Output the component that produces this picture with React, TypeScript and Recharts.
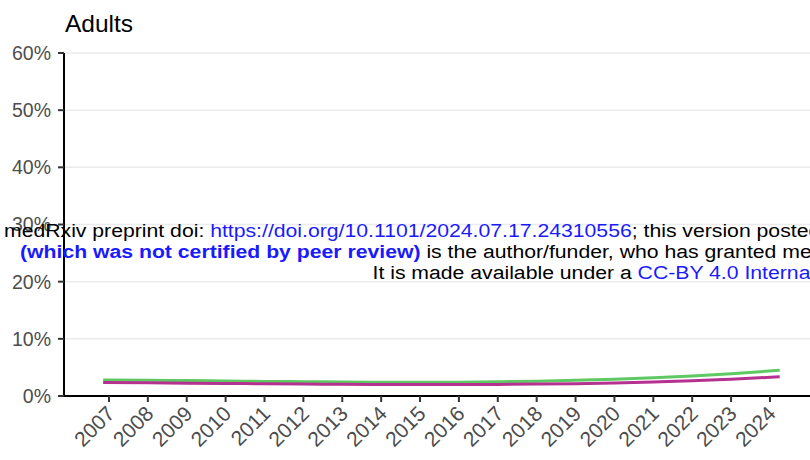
import React from "react";
import { LineChart, Line, XAxis, YAxis, CartesianGrid } from "recharts";

// sample points along the smoothed curves (first/last points sit just past the end ticks)
const sampleYears = [2006.85, 2008, 2009, 2010, 2011, 2012, 2013, 2014, 2015, 2016, 2017, 2018, 2019, 2020, 2021, 2022, 2023, 2024.25];
const greenSeries = [2.8, 2.75, 2.7, 2.62, 2.55, 2.5, 2.45, 2.42, 2.4, 2.42, 2.5, 2.6, 2.75, 2.95, 3.2, 3.5, 3.9, 4.5];
const magentaSeries = [2.35, 2.3, 2.25, 2.2, 2.15, 2.1, 2.05, 2.02, 2.0, 2.0, 2.03, 2.08, 2.15, 2.28, 2.45, 2.65, 2.95, 3.35];

const yearTicks = [2007, 2008, 2009, 2010, 2011, 2012, 2013, 2014, 2015, 2016, 2017, 2018, 2019, 2020, 2021, 2022, 2023, 2024];
const percentTicks = [0, 10, 20, 30, 40, 50, 60];

const data = sampleYears.map((year, i) => ({
  year,
  green: greenSeries[i],
  magenta: magentaSeries[i],
}));

const FONT = "'Liberation Sans', Arial, Helvetica, sans-serif";

function YearTick({ x, y, payload }: any) {
  return (
    <text
      x={0}
      y={0}
      transform={`translate(${x + 7},${y + 11}) rotate(-45)`}
      textAnchor="end"
      fontSize={21}
      fontFamily={FONT}
      fill="#4d4d4d"
    >
      {payload.value}
    </text>
  );
}

export default function App() {
  return (
    <div
      style={{
        position: "absolute",
        left: 0,
        top: 0,
        width: 810,
        height: 460,
        overflow: "hidden",
        background: "#fff",
        fontFamily: FONT,
      }}
    >
      <LineChart width={810} height={460} data={data} margin={{ top: 53, right: 0, bottom: 0, left: 0 }}>
        <CartesianGrid vertical={false} stroke="#ebebeb" strokeWidth={1.5} />
        <XAxis
          dataKey="year"
          type="number"
          domain={[2005.843, 2025.03]}
          ticks={yearTicks}
          interval={0}
          allowDataOverflow
          height={64}
          tickSize={6}
          tickMargin={2}
          axisLine={{ stroke: "#000", strokeWidth: 2 }}
          tickLine={{ stroke: "#333", strokeWidth: 2 }}
          tick={<YearTick />}
        />
        <YAxis
          domain={[0, 60]}
          ticks={percentTicks}
          interval={0}
          width={64}
          tickSize={6}
          tickMargin={7}
          tickFormatter={(v) => `${v}%`}
          axisLine={{ stroke: "#000", strokeWidth: 2 }}
          tickLine={{ stroke: "#333", strokeWidth: 2 }}
          tick={{ fill: "#4d4d4d", fontSize: 19.5, fontFamily: FONT }}
        />
        <Line type="monotone" dataKey="green" stroke="#5ec962" strokeWidth={3} dot={false} isAnimationActive={false} />
        <Line type="monotone" dataKey="magenta" stroke="#b5318f" strokeWidth={3} dot={false} isAnimationActive={false} />
      </LineChart>

      {/* title + preprint watermark drawn on top */}
      <svg
        width={810}
        height={460}
        style={{ position: "absolute", left: 0, top: 0, pointerEvents: "none" }}
        fontFamily={FONT}
      >
        <text x={65} y={32} fontSize={24.5} fill="#000">
          Adults
        </text>
        <text transform="translate(4,237) scale(1.116,1)" fontSize={19} fill="#000">
          medRxiv preprint doi: <tspan fill="#1a1aff">https://doi.org/10.1101/2024.07.17.24310556</tspan>; this version posted
        </text>
        <text transform="translate(20,258) scale(1.116,1)" fontSize={19} fill="#000">
          <tspan fill="#1a1aff" fontWeight="bold">(which was not certified by peer review)</tspan> is the author/funder, who has granted medRxiv
        </text>
        <text transform="translate(372.5,279) scale(1.116,1)" fontSize={19} fill="#000">
          It is made available under a <tspan fill="#1a1aff">CC-BY 4.0 International license</tspan>
        </text>
      </svg>
    </div>
  );
}
